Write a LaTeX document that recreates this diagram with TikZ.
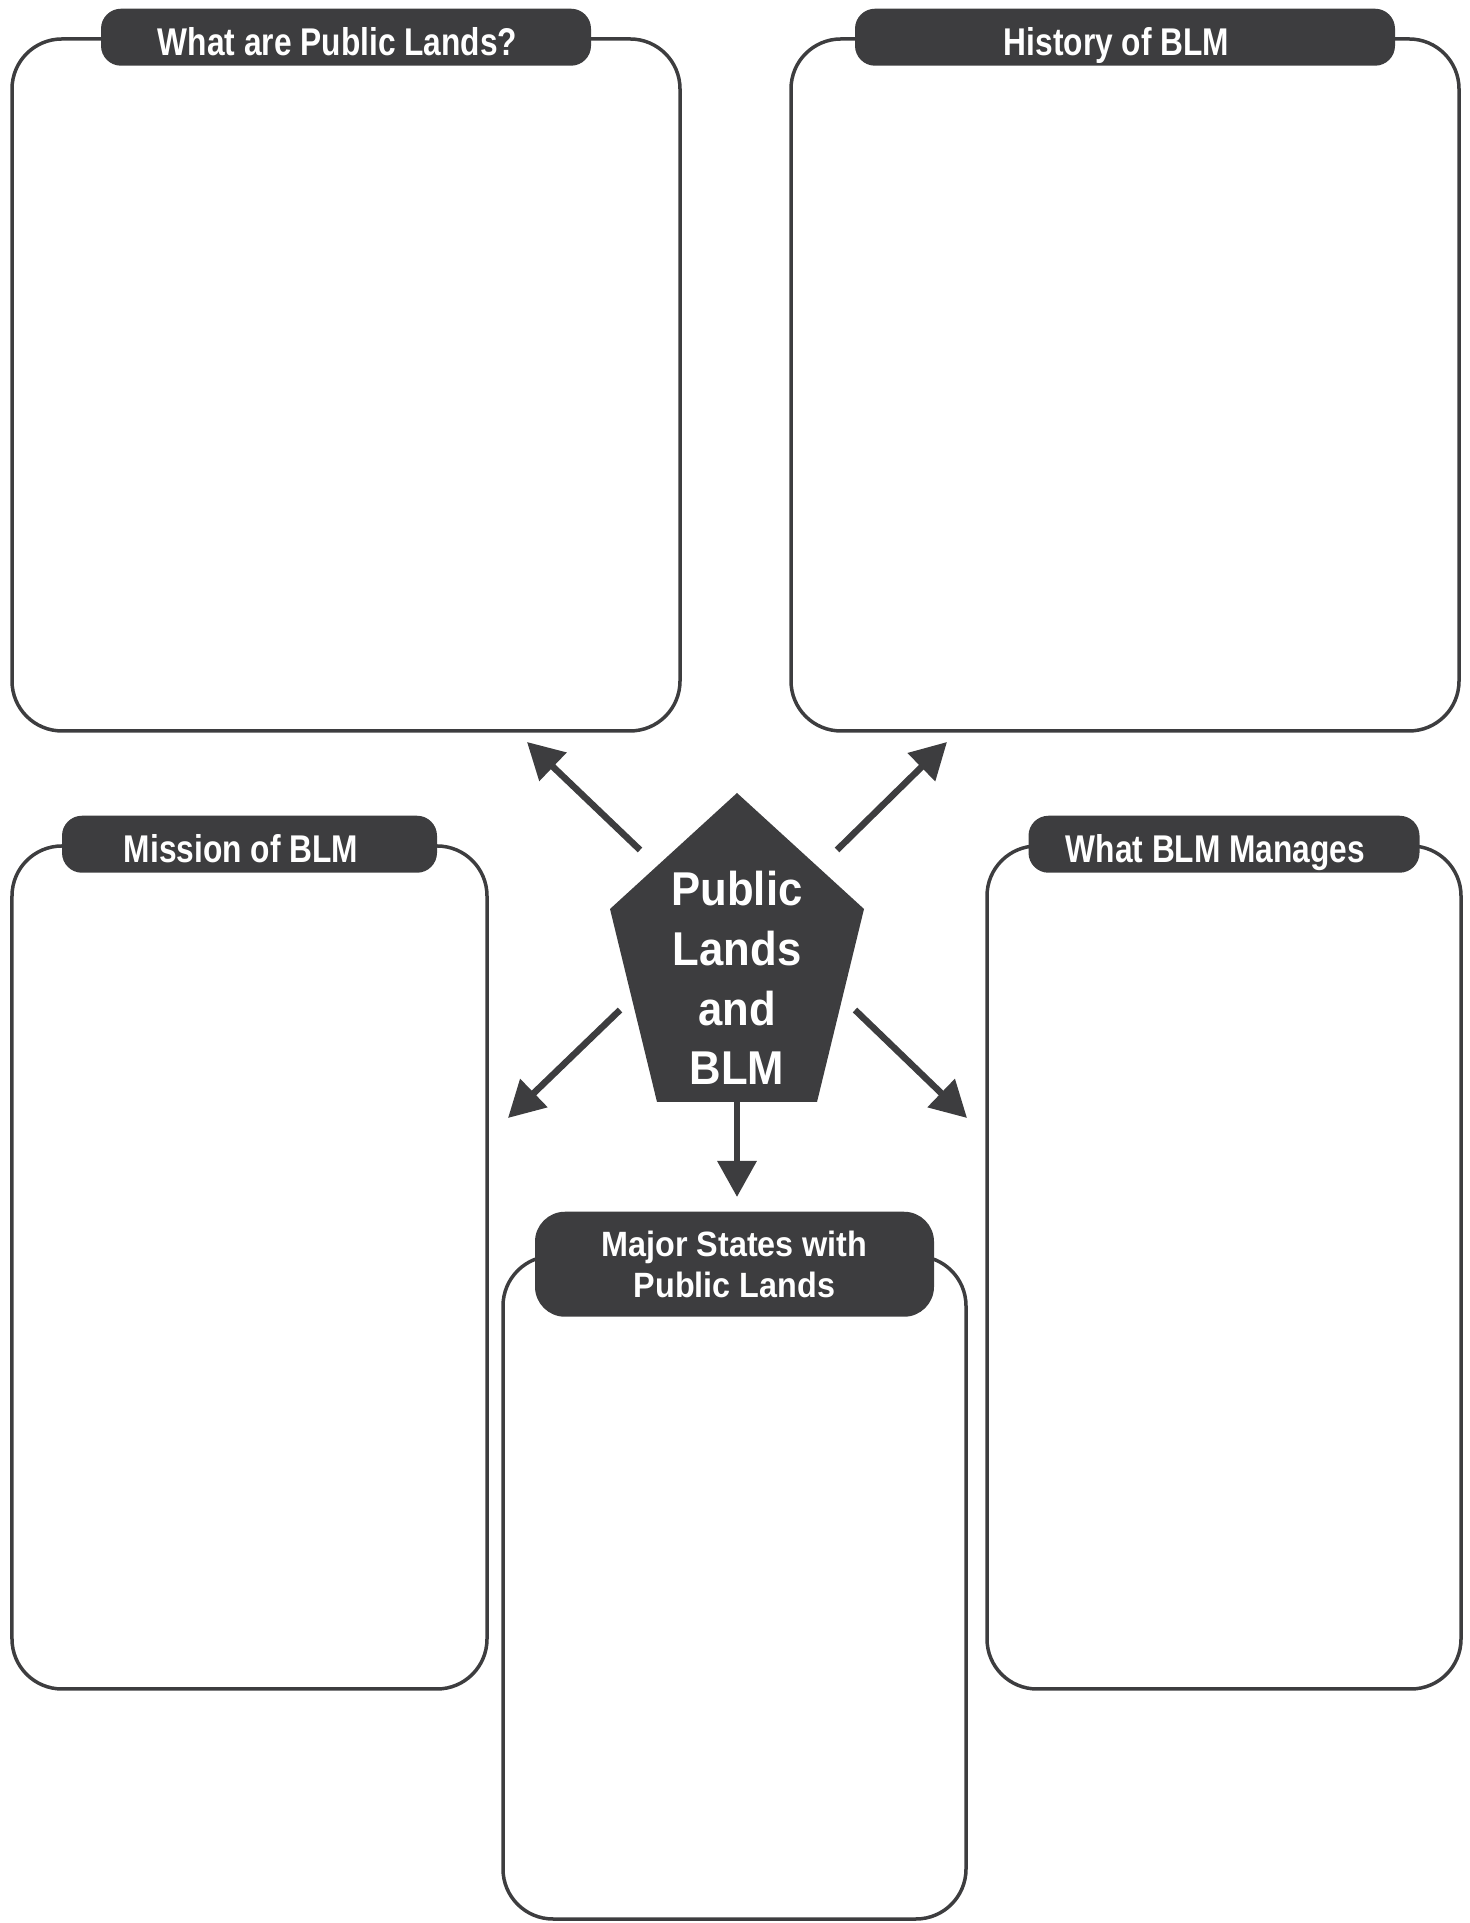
\documentclass[tikz,border=0pt]{standalone}
\usepackage{fontspec}
\setmainfont{Liberation Sans}[FakeStretch=0.92]
\newfontfamily\tabfont{Liberation Sans}[FakeStretch=0.82]
\usepackage{xcolor}
\usetikzlibrary{shapes, arrows.meta, positioning}
\definecolor{ink}{HTML}{3D3D3F}

\begin{document}
\begin{tikzpicture}[
            panel/.style={rectangle, draw=ink, line width=0.035cm, rounded corners=0.5cm},
            tab/.style={rectangle, fill=ink, text=white, rounded corners=0.2cm, minimum height=0.57cm},
            head/.style={tab, inner ysep=0pt, text height=0.40cm, text depth=0.04cm,
                         font=\tabfont\bfseries\fontsize{11}{13}\selectfont,
                         execute at end node={\hspace{0.17cm}}},
            arr/.style={-{Triangle[length=0.36cm, width=0.38cm]}, draw=ink, line width=0.065cm}
        ]
        \path[use as bounding box] (0,0) rectangle (14.70,19.23);

        % Panels
        \node[panel, minimum width=6.68cm, minimum height=6.92cm] (lands) at (3.46,15.38) {};
        \node[panel, minimum width=6.68cm, minimum height=6.92cm] (history) at (11.25,15.38) {};
        \node[panel, minimum width=4.75cm, minimum height=8.43cm] (mission) at (2.495,6.555) {};
        \node[panel, minimum width=4.74cm, minimum height=8.43cm] (manages) at (12.24,6.555) {};
        \node[panel, minimum width=4.63cm, minimum height=6.63cm] (states) at (7.345,3.355) {};

        % Headers
        \node[head, minimum width=4.90cm] (landsT) at (lands.north) {What are Public Lands?};
        \node[head, minimum width=5.40cm] (historyT) at (history.north) {History of BLM};
        \node[head, minimum width=3.75cm] (missionT) at (mission.north) {Mission of BLM};
        \node[head, minimum width=3.91cm] (managesT) at (manages.north) {What BLM Manages};
        \node[tab, minimum width=3.99cm, minimum height=1.05cm, rounded corners=0.3cm, align=center,
              font=\bfseries\fontsize{10}{11.7}\selectfont] (statesT) at ([yshift=-0.1cm]states.north)
              {Major States with\\Public Lands};

        % Centre
        \fill[ink] (7.37,11.30) -- (8.64,10.14) -- (8.17,8.21) -- (6.57,8.21) -- (6.10,10.14) -- cycle;
        \node[text=white, align=center, font=\bfseries\fontsize{13.5}{17}\selectfont] (hub) at (7.37,9.45)
              {Public\\Lands\\and\\BLM};

        % Arrows
        \coordinate (nwA) at (6.40,10.73);  \coordinate (nwB) at (5.27,11.81);
        \coordinate (neA) at (8.37,10.73);  \coordinate (neB) at (9.47,11.81);
        \coordinate (swA) at (6.20,9.13);   \coordinate (swB) at (5.08,8.05);
        \coordinate (seA) at (8.55,9.13);   \coordinate (seB) at (9.67,8.05);
        \coordinate (sA) at (7.37,8.21);    \coordinate (sB) at (7.37,7.26);
        \draw[arr] (nwA) -- (nwB);
        \draw[arr] (neA) -- (neB);
        \draw[arr] (swA) -- (swB);
        \draw[arr] (seA) -- (seB);
        \draw[arr] (sA) -- (sB);

    \end{tikzpicture}
\end{document}
